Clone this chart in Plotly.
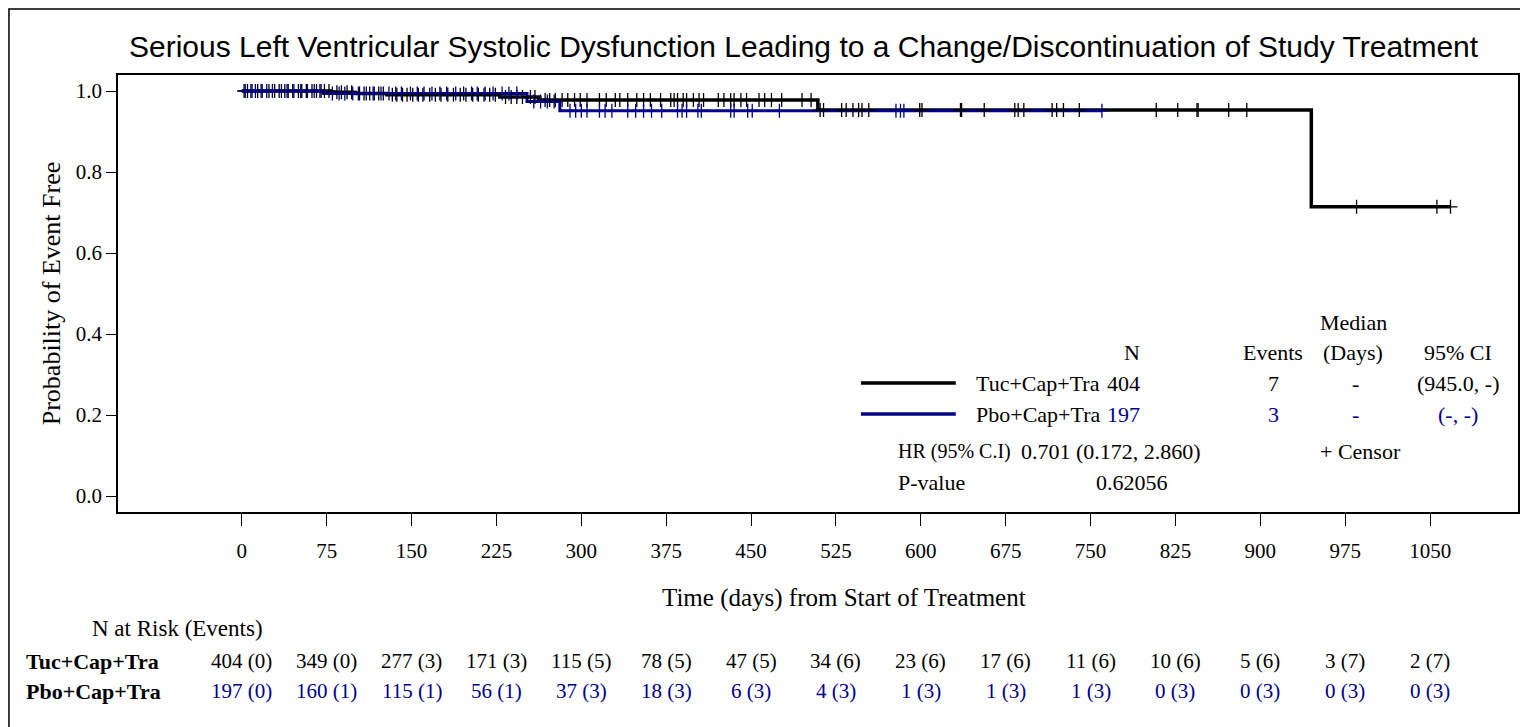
import numpy as np
import plotly.graph_objects as go

TITLE = "Serious Left Ventricular Systolic Dysfunction Leading to a Change/Discontinuation of Study Treatment"
GROUPS = ["Tuc+Cap+Tra", "Pbo+Cap+Tra"]
COLORS = ["#000000", "#00008C"]

# Kaplan-Meier steps (day, probability event free)
tuc_days = [0, 79, 100, 128, 228, 262, 509, 945, 1068]
tuc_surv = [1.0, 0.997, 0.994, 0.991, 0.985, 0.978, 0.953, 0.714, 0.714]
pbo_days = [0, 72, 252, 281, 760]
pbo_surv = [1.0, 0.994, 0.974, 0.951, 0.951]

# censor times (days)
tuc_censor = [2, 5, 9, 14, 18, 24, 29, 33, 38, 41, 45, 50, 53, 57, 62, 66, 70, 73, 77,
              84, 88, 93, 97, 104, 108, 113, 117, 121, 125, 133, 137, 142, 146, 151,
              156, 160, 166, 171, 176, 182, 187, 193, 198, 204, 209, 214, 219, 224,
              233, 238, 243, 248, 255, 259, 268, 272, 277, 283, 288, 294, 299, 305,
              316, 322, 330, 334, 341, 349, 355, 361, 370, 379, 382, 385, 390, 393,
              399, 404, 408, 421, 426, 432, 435, 441, 446, 457, 462, 468, 477, 495,
              503, 511, 514, 530, 534, 540, 545, 548, 554, 599, 601, 635, 636, 656,
              683, 686, 691, 716, 720, 726, 740, 808, 827, 844, 845, 872, 888, 985,
              1056, 1068]
pbo_censor = [3, 8, 12, 17, 22, 27, 35, 40, 46, 52, 58, 64, 69, 80, 86, 91, 98, 103,
              110, 116, 123, 130, 136, 141, 149, 155, 161, 168, 175, 181, 189, 196,
              203, 208, 215, 222, 230, 236, 243, 258, 264, 270, 276, 290, 295, 300,
              305, 316, 321, 327, 341, 348, 355, 362, 371, 385, 389, 393, 403, 406,
              432, 435, 447, 451, 475, 578, 582, 585, 760]

# number at risk table
risk_days = [0, 75, 150, 225, 300, 375, 450, 525, 600, 675, 750, 825, 900, 975, 1050]
tuc_risk = [404, 349, 277, 171, 115, 78, 47, 34, 23, 17, 11, 10, 5, 3, 2]
tuc_events = [0, 0, 3, 3, 5, 5, 5, 6, 6, 6, 6, 6, 6, 7, 7]
pbo_risk = [197, 160, 115, 56, 37, 18, 6, 4, 1, 1, 1, 0, 0, 0, 0]
pbo_events = [0, 1, 1, 1, 3, 3, 3, 3, 3, 3, 3, 3, 3, 3, 3]

# summary statistics
n_total = [404, 197]
n_events = [7, 3]
medians = ["-", "-"]
ci_95 = ["(945.0, -)", "(-, -)"]
hr_text = "0.701 (0.172, 2.860)"
p_value = "0.62056"

SERIF = "Liberation Serif, Times New Roman, serif"
SANS = "Liberation Sans, Arial, sans-serif"

# plot area in page pixels; the page body adds an 8px offset
OFF = 8
L, R, T, B = 118, 1520, 75, 512
PAGE_W, PAGE_H = 1528, 727


def px(x):
    return (x - L) / (R - L)


def py(y):
    return (B - y) / (B - T)


def step_value(days, surv, t):
    i = np.searchsorted(days, t, side="right") - 1
    return surv[max(i, 0)]


fig = go.Figure()
for days, surv, col, w in [(tuc_days, tuc_surv, COLORS[0], 3.5), (pbo_days, pbo_surv, COLORS[1], 3)]:
    fig.add_trace(go.Scatter(x=days, y=surv, mode="lines", line=dict(color=col, width=w, shape="hv"),
                             showlegend=False, hoverinfo="skip"))

for days, surv, cens, col in [(tuc_days, tuc_surv, tuc_censor, COLORS[0]),
                              (pbo_days, pbo_surv, pbo_censor, COLORS[1])]:
    fig.add_trace(go.Scatter(x=cens, y=[step_value(days, surv, t) for t in cens], mode="markers",
                             marker=dict(symbol="cross-thin", size=10, line=dict(color=col, width=1.3)),
                             showlegend=False, hoverinfo="skip"))

ann = []


def text(x, y, s, xanchor="center", color="#000", size=22, xref="paper", font=SERIF):
    ann.append(dict(x=x, y=y, xref=xref, yref="paper", text=s, showarrow=False, xanchor=xanchor,
                    yanchor="middle", font=dict(family=font, size=size, color=color)))


# legend / summary box
text(px(1355), py(322), "Median")
text(px(1133), py(352), "N")
text(px(1275), py(352), "Events")
text(px(1355), py(352), "(Days)")
text(px(1460), py(352), "95% CI")
shapes = []
for i, yy in enumerate([383, 414]):
    col = COLORS[i]
    shapes.append(dict(type="line", xref="paper", yref="paper", x0=px(862), x1=px(957), y0=py(yy), y1=py(yy),
                       line=dict(color=col, width=3.5)))
    text(px(975), py(yy), GROUPS[i], xanchor="left")
    text(px(1106), py(yy), str(n_total[i]), xanchor="left", color=col)
    text(px(1275), py(yy), str(n_events[i]), color=col)
    text(px(1357), py(yy), medians[i], color=col)
    text(px(1460), py(yy), ci_95[i], color=col)
text(px(897), py(451), "HR (95% C.I)", xanchor="left", size=20)
text(px(1020), py(451), hr_text, xanchor="left", size=22)
text(px(1362), py(451), "+ Censor")
text(px(897), py(482), "P-value", xanchor="left")
text(px(1133), py(482), p_value)

# axis title and at-risk table
text(532, py(598), "Time (days) from Start of Treatment", xref="x", size=25)
text(px(90), py(628), "N at Risk (Events)", xanchor="left", size=23)
for row, (risk, ev, col) in enumerate([(tuc_risk, tuc_events, COLORS[0]), (pbo_risk, pbo_events, COLORS[1])]):
    yy = py(661 + 30 * row)
    text(px(24), yy, "<b>" + GROUPS[row] + "</b>", xanchor="left")
    for d, n, e in zip(risk_days, risk, ev):
        text(d, yy, f"{n} ({e})", xref="x", color=col, size=21)

# title
text(px(805), py(47), TITLE, font=SANS, size=30)

# outer frame
shapes.append(dict(type="rect", xref="paper", yref="paper", x0=px(8.8), x1=px(1540), y0=py(740), y1=py(9),
                   line=dict(color="#000", width=1.5), layer="below"))

fig.update_layout(
    width=PAGE_W - OFF, height=PAGE_H - OFF, autosize=False,
    margin=dict(l=L - OFF, r=PAGE_W - R, t=T - OFF, b=PAGE_H - B),
    plot_bgcolor="white", paper_bgcolor="white",
    annotations=ann, shapes=shapes,
    font=dict(family=SERIF, size=20, color="#000"),
)
x_px_per_day = (1432 - 242) / 1050
fig.update_xaxes(range=[-(242 - L) / x_px_per_day, 1050 + (R - 1432) / x_px_per_day],
                 tickvals=risk_days, ticks="outside", ticklen=12, tickcolor="#000",
                 showline=True, mirror=True, linecolor="#000", linewidth=1.5,
                 showgrid=False, zeroline=False, ticklabelstandoff=7,
                 tickfont=dict(family=SERIF, size=21))
fig.update_yaxes(range=[-0.0395, 1.0395], tickvals=[0, 0.2, 0.4, 0.6, 0.8, 1.0], tickformat=".1f",
                 ticks="outside", ticklen=10, tickcolor="#000",
                 showline=True, mirror=True, linecolor="#000", linewidth=1.5,
                 showgrid=False, zeroline=False,
                 title=dict(text="Probability of Event Free", font=dict(family=SERIF, size=26), standoff=8),
                 tickfont=dict(family=SERIF, size=21))

fig.write_html("out.html")
